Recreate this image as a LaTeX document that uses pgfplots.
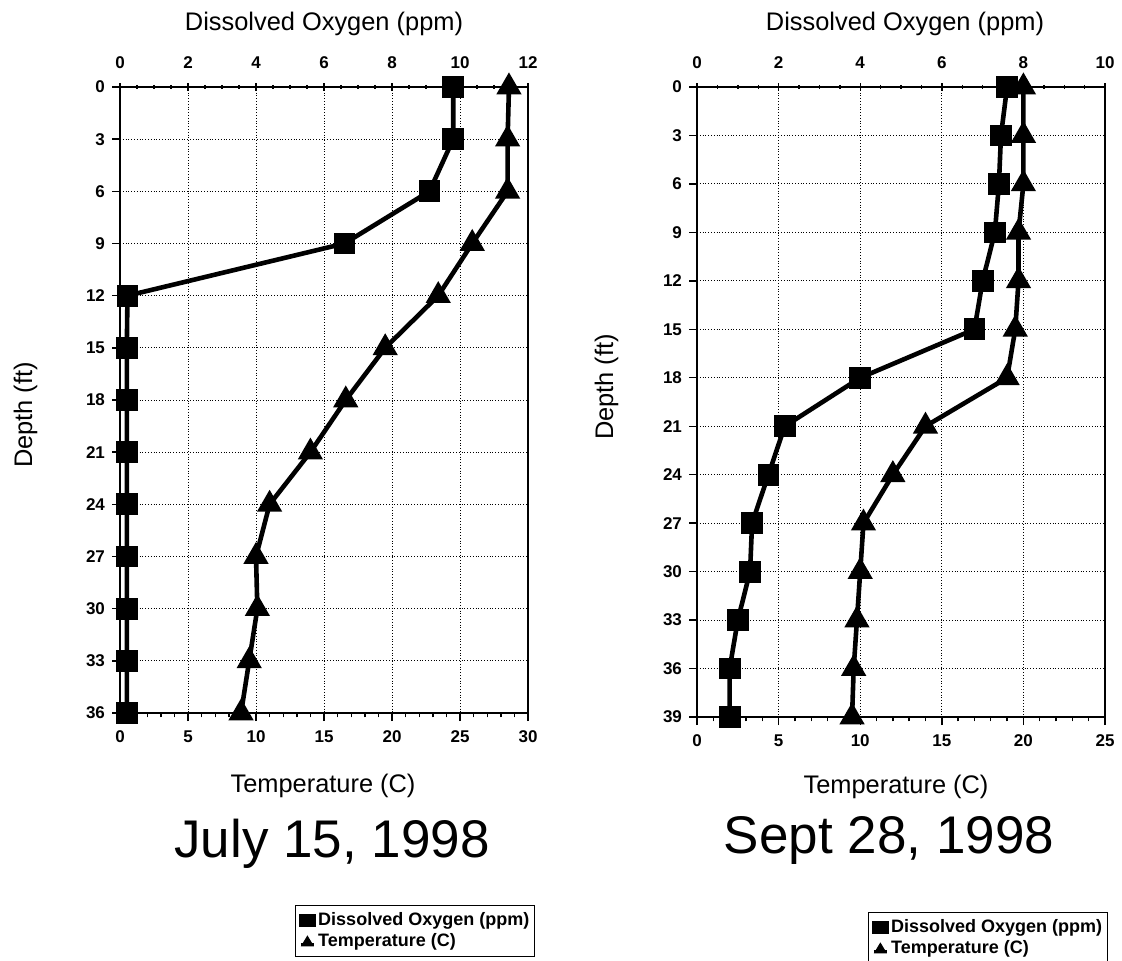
\documentclass[border=0pt]{standalone}
\usepackage{fontspec}
\setmainfont{Liberation Sans}
\usepackage{pgfplots}
\usepackage{pgfplotstable}
\pgfplotsset{compat=1.18}

\pgfplotstableread{
depth do temp
0  9.8  28.6
3  9.8  28.5
6  9.1  28.5
9  6.6  25.9
12 0.22 23.4
15 0.2  19.5
18 0.2  16.6
21 0.2  14.0
24 0.2  11.0
27 0.2  10.0
30 0.2  10.1
33 0.2  9.5
36 0.2  8.9
}\julytab

\pgfplotstableread{
depth do temp
0  7.6  20.0
3  7.45 20.0
6  7.4  20.0
9  7.3  19.7
12 7.0  19.7
15 6.8  19.5
18 4.0  19.0
21 2.15 14.0
24 1.75 12.0
27 1.35 10.2
30 1.3  10.0
33 1.0  9.8
36 0.8  9.6
39 0.8  9.5
}\septtab

\pgfplotsset{
  base/.style={
    scale only axis, width=204pt, clip=false, y dir=reverse,
    /pgf/number format/assume math mode=true,
    tick label style={font=\bfseries\fontsize{8.5}{9.5}\selectfont},
    axis line style={line width=1.2pt},
    major tick length=4pt, minor tick length=2.2pt,
    every tick/.style={black, line width=0.7pt},
  },
  tempax/.style={base,
    xtick pos=left, ytick pos=left, tick align=outside,
    grid=major, grid style={densely dotted, black, line width=0.5pt},
    xticklabel shift=1.5pt, minor x tick num=4,
  },
  doax/.style={base,
    axis x line*=top, axis y line=none, ytick=\empty,
    tick align=center, minor x tick num=3, xticklabel shift=3.5pt,
    legend cell align=left,
    legend style={draw=black, line width=0.6pt, anchor=north west,
      font=\bfseries\fontsize{9}{10.5}\selectfont,
      inner xsep=1.5pt, inner ysep=1.5pt, row sep=-1.5pt,
      nodes={inner xsep=1pt, inner ysep=2pt}},
  },
  doline/.style={black, line width=2.3pt, mark=square*, mark size=4.3pt,
    mark options={solid},
    legend image code/.code={\fill[black] (0pt,-2pt) rectangle (6.5pt,2.2pt);}},
  templine/.style={black, line width=2.3pt, mark=triangle*, mark size=5pt,
    mark options={solid}},
  templeg/.style={legend image code/.code={%
    \draw[black,line width=1.2pt] (0pt,-1.5pt)--(6.5pt,-1.5pt);
    \fill[black] (0.5pt,-2pt)--(3.25pt,2.6pt)--(6pt,-2pt)--cycle;}},
}

\begin{document}
\begin{tikzpicture}
\useasboundingbox (0,0) rectangle (561pt,480pt);

% ---------- July 15, 1998 ----------
\begin{axis}[tempax, at={(60pt,123.5pt)}, anchor=south west, height=313pt,
  xmin=0, xmax=30, ymin=0, ymax=36,
  xtick={0,5,...,30}, ytick={0,3,...,36}]
\addplot[templine] table[x=temp, y=depth] {\julytab};
\end{axis}
\begin{axis}[doax, at={(60pt,123.5pt)}, anchor=south west, height=313pt,
  xmin=0, xmax=12, ymin=0, ymax=36, xtick={0,2,...,12},
  legend style={at={(axis description cs:0.429,-0.3067)}}]
\addplot[doline] table[x=do, y=depth] {\julytab};
\addlegendentry{Dissolved Oxygen (ppm)\hspace{2.5pt}}
\addlegendimage{templeg}
\addlegendentry{Temperature (C)}
\end{axis}

% ---------- Sept 28, 1998 ----------
\begin{axis}[tempax, at={(348.5pt,121.5pt)}, anchor=south west, height=315pt,
  xmin=0, xmax=25, ymin=0, ymax=39,
  xtick={0,5,...,25}, ytick={0,3,...,39}]
\addplot[templine] table[x=temp, y=depth] {\septtab};
\end{axis}
\begin{axis}[doax, at={(348.5pt,121.5pt)}, anchor=south west, height=315pt,
  xmin=0, xmax=10, ymin=0, ymax=39, xtick={0,2,...,10},
  legend style={at={(axis description cs:0.419,-0.3095)}}]
\addplot[doline] table[x=do, y=depth] {\septtab};
\addlegendentry{Dissolved Oxygen (ppm)\hspace{2.5pt}}
\addlegendimage{templeg}
\addlegendentry{Temperature (C)}
\end{axis}

% ---------- labels ----------
\begin{scope}[every node/.style={inner sep=0pt}]
\node[font=\fontsize{12.7}{15}\selectfont] at (162pt,468pt) {Dissolved Oxygen (ppm)};
\node[font=\fontsize{12.7}{15}\selectfont] at (452.5pt,468pt) {Dissolved Oxygen (ppm)};
\node[font=\fontsize{12.7}{15}\selectfont, anchor=base] at (161.5pt,84pt) {Temperature (C)};
\node[font=\fontsize{12.7}{15}\selectfont, anchor=base] at (448pt,83.5pt) {Temperature (C)};
\node[font=\fontsize{12.7}{15}\selectfont, anchor=base, rotate=90] at (16pt,272.5pt) {Depth (ft)};
\node[font=\fontsize{12.7}{15}\selectfont, anchor=base, rotate=90] at (306.5pt,286.5pt) {Depth (ft)};
\node[font=\fontsize{26.5}{30}\selectfont, anchor=base] at (166pt,51.5pt) {July 15, 1998};
\node[font=\fontsize{26.5}{30}\selectfont, anchor=base] at (444.5pt,53.5pt) {Sept 28,\ 1998};
\end{scope}
\end{tikzpicture}
\end{document}
